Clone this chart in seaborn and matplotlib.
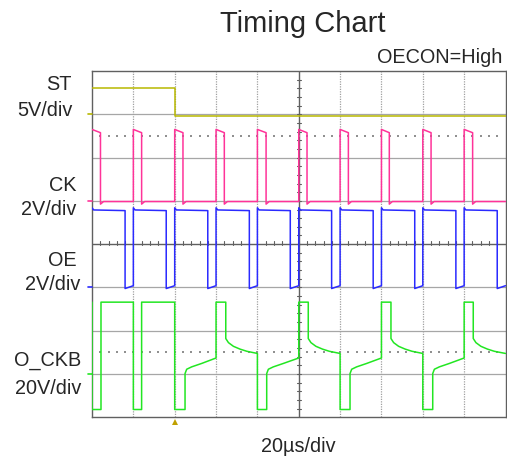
import numpy as np
import matplotlib
matplotlib.use("Agg")
import matplotlib.pyplot as plt
import seaborn as sns

# ---------------- data ----------------
title = "Timing Chart"
condition_label = "OECON=High"
time_label = "20µs/div"
channels = ["ST", "CK", "OE", "O_CKB"]
scale_labels = ["5V/div", "2V/div", "2V/div", "20V/div"]
volts_per_div = [5, 2, 2, 20]
ground_div = [7, 5, 3, 1]          # ground level of each trace, in divisions
trigger_time = 40                  # µs

# ST (time µs, volts)
st_t = [0, 40, 40, 200]
st_v = [3.0, 3.0, -0.15, -0.15]

# CK edges (µs) and levels (V)
ck_rise = [0, 20, 40, 60, 80, 100, 120, 140, 160, 180]
ck_fall = [4.1, 24.0, 44.0, 64.0, 84.2, 104.0, 124.0, 143.8, 164.0, 184.1]
ck_high = [3.30, 3.15]             # start / end of the pulse
ck_low = [-0.15, -0.03]            # just after the fall / settled

# OE edges (µs) and levels (V)
oe_rise = [0, 20, 40, 60, 80, 100, 120, 140, 160, 180]
oe_fall = [16.0, 35.9, 56.0, 76.1, 95.9, 115.9, 136.0, 156.1, 176.0, 196.0]
oe_high = [3.68, 3.58, 3.55]       # overshoot / after settle / before fall
oe_low = [-0.05, 0.08]             # start / end of the low part

# O_CKB edges (µs) and levels (V)
ockb_edge_a = [0, 20, 40, 60, 80, 100, 120, 140, 160, 180]
ockb_edge_b = [4.35, 24.0, 45.0, 64.7, 84.5, 104.6, 124.8, 144.6, 164.8, 184.4]
ockb_pulse = [-16.4, -16.4, -16.4, 33.2, -16.4, 33.2, -16.4, 33.2, -16.4, 33.2]
ockb_after = ["high", "high", "rise", "decay", "rise", "decay", "rise", "decay", "rise", "decay"]
ockb_high = 33.2
decay_dt = [0, 1.3, 3.7, 6.9, 10.2, 15.6]
decay_v = [16.4, 14.5, 12.8, 11.5, 10.5, 9.5]
rise_dt = [0, 0.8, 3.2, 8.1, 15.5]
rise_v = [0.2, 2.2, 3.3, 4.9, 7.4]

colors = ["#b8b800", "#ff3399", "#2a2aff", "#22e622"]
T_END = 200


# ---------------- build the traces from the read edges/levels ----------------
def build_ck():
    t, v = [], []
    for k, (r, f) in enumerate(zip(ck_rise, ck_fall)):
        nxt = ck_rise[k + 1] if k + 1 < len(ck_rise) else T_END
        if k > 0:
            t.append(r); v.append(ck_low[1])
        t += [r, f, f, f + 1.5, nxt]
        v += [ck_high[0], ck_high[1], ck_low[0], ck_low[1], ck_low[1]]
    return t, v


def build_oe():
    t, v = [], []
    for k, (r, f) in enumerate(zip(oe_rise, oe_fall)):
        nxt = oe_rise[k + 1] if k + 1 < len(oe_rise) else T_END
        if k > 0:
            t.append(r); v.append(oe_low[1])
        t += [r, r + 0.8, f, f, nxt]
        v += [oe_high[0], oe_high[1], oe_high[2], oe_low[0], oe_low[1]]
    return t, v


def build_ockb():
    t, v = [ockb_edge_a[0]], [ockb_high]
    for k in range(len(ockb_edge_a)):
        a, b = ockb_edge_a[k], ockb_edge_b[k]
        end = ockb_edge_a[k + 1] if k + 1 < len(ockb_edge_a) else T_END
        t += [a, b]; v += [ockb_pulse[k], ockb_pulse[k]]
        kind = ockb_after[k]
        if kind == "high":
            t += [b, end]; v += [ockb_high, ockb_high]
        else:
            dts, vals = (decay_dt, decay_v) if kind == "decay" else (rise_dt, rise_v)
            for dt, val in zip(dts, vals):
                t.append(min(b + dt, end)); v.append(val)
    return t, v


traces = [(st_t, st_v), build_ck(), build_oe(), build_ockb()]

# ---------------- figure ----------------
sns.set_style("white")
plt.rcParams["font.family"] = ["Liberation Sans", "DejaVu Sans"]

W, H, DPI = 507, 458, 100
fig = plt.figure(figsize=(W / DPI, H / DPI), dpi=DPI)
ax = fig.add_axes([92 / W, 1 - 417.3 / H, (505.5 - 92) / W, (417.3 - 71) / H])
ax.set_xlim(0, 200)
ax.set_ylim(0, 8)
ax.set_xticks([]); ax.set_yticks([])
for s in ax.spines.values():
    s.set_color("#606060"); s.set_linewidth(1.0)

# graticule
for yv in range(1, 8):
    if yv == 4:
        continue
    ax.axhline(yv, color="#a6a6a6", lw=0.9, zorder=1)
for xv in range(20, 200, 20):
    if xv == 100:
        continue
    ax.axvline(xv, color="#a0a0a0", lw=0.9, ls=(0, (1, 1)), zorder=1)
ax.axhline(4, color="#606060", lw=1.0, zorder=1)
ax.axvline(100, color="#606060", lw=1.0, zorder=1)
for xv in np.arange(4, 200, 4):
    ax.plot([xv, xv], [3.98, 4.07], color="#606060", lw=0.8, zorder=1)
for yv in np.arange(0.2, 8, 0.2):
    ax.plot([99.2, 100.9], [yv, yv], color="#606060", lw=0.8, zorder=1)
# dotted reference rows
for yv in (6.5, 1.5):
    xs = np.arange(4, 200, 4)
    ax.scatter(xs, np.full_like(xs, yv, dtype=float), s=1.2, marker="s",
               color="#909090", linewidths=0, zorder=1)

# traces
for (t, v), vpd, g, c in zip(traces, volts_per_div, ground_div, colors):
    y = g + np.asarray(v, dtype=float) / vpd
    sns.lineplot(x=t, y=y, sort=False, estimator=None, color=c, lw=1.1, ax=ax, zorder=3)
    ax.plot([-2.0, 0], [g, g], color=c, lw=1.2, clip_on=False, zorder=3)

# trigger marker
ax.plot([trigger_time], [-0.1], marker="^", ms=4.2, color="#c0a000", clip_on=False,
        markeredgewidth=0)

# texts
fs = 14.3
fig.text(303 / W, 1 - 31.7 / H, title, ha="center", va="baseline", fontsize=21)
fig.text(502 / W, 1 - 62.7 / H, condition_label, ha="right", va="baseline", fontsize=fs)
fig.text(298.4 / W, 1 - 451.7 / H, time_label, ha="center", va="baseline", fontsize=fs)
name_pos = [(71.7, 90), (76.7, 191), (76.7, 265.7), (81.7, 366)]
scale_pos = [(72.7, 116), (76, 215), (80, 290), (81.7, 394.3)]
for name, sl, (nx, ny), (sx, sy) in zip(channels, scale_labels, name_pos, scale_pos):
    fig.text(nx / W, 1 - ny / H, name, ha="right", va="baseline", fontsize=fs)
    fig.text(sx / W, 1 - sy / H, sl, ha="right", va="baseline", fontsize=fs)

fig.savefig("out.png", dpi=DPI)
